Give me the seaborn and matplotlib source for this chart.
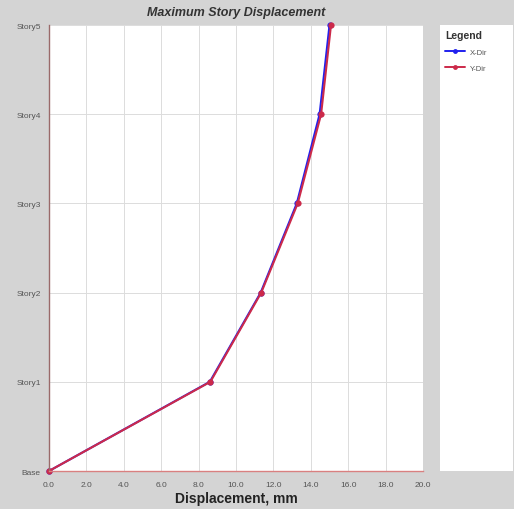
import numpy as np
import pandas as pd
import matplotlib
matplotlib.use("Agg")
import matplotlib.pyplot as plt
import seaborn as sns
from matplotlib.lines import Line2D

stories = ["Base", "Story1", "Story2", "Story3", "Story4", "Story5"]
x_dir = [0.0, 8.6, 11.32, 13.25, 14.47, 15.0]
y_dir = [0.0, 8.63, 11.35, 13.3, 14.55, 15.08]
x_ticks = [0.0, 2.0, 4.0, 6.0, 8.0, 10.0, 12.0, 14.0, 16.0, 18.0, 20.0]

df = pd.DataFrame({
    "Displacement": x_dir + y_dir,
    "Level": list(range(len(stories))) * 2,
    "Case": ["X-Dir"] * len(stories) + ["Y-Dir"] * len(stories),
})

sns.set_style("white")
plt.rcParams["font.family"] = ["Liberation Sans", "DejaVu Sans"]

bg = "#d4d4d4"
fig = plt.figure(figsize=(5.14, 5.10), dpi=100, facecolor=bg)
ax = fig.add_axes([0.0953, 0.0745, 0.7277, 0.8745])
ax.set_facecolor("white")

palette = {"X-Dir": "#2020ee", "Y-Dir": "#cc2a4a"}
sns.lineplot(data=df, x="Displacement", y="Level", hue="Case", palette=palette,
             sort=False, estimator=None, marker="o", markersize=4.5,
             markeredgewidth=0, linewidth=1.5, ax=ax, legend=False)
for ln in ax.get_lines():
    ln.set_clip_on(False)

ax.set_xlim(0, 20)
ax.set_ylim(0, 5)
ax.set_xticks(x_ticks)
ax.set_xticklabels([f"{t:.1f}" for t in x_ticks])
ax.set_yticks(range(len(stories)))
ax.set_yticklabels(stories)
ax.grid(True, color="#dcdcdc", linewidth=0.7)
ax.tick_params(axis="both", labelsize=6, labelcolor="#555555", length=3,
               width=0.6, color="#555555", direction="out")
ax.tick_params(axis="x", pad=4)
ax.tick_params(axis="y", pad=3)
for s in ["top", "right"]:
    ax.spines[s].set_visible(False)
ax.spines["left"].set_color("#9a6a6a")
ax.spines["left"].set_linewidth(1.0)
ax.spines["bottom"].set_color("#d98080")
ax.spines["bottom"].set_linewidth(1.0)

ax.set_xlabel("Displacement, mm", fontsize=10, fontweight="bold", color="#222222", labelpad=2)
ax.set_ylabel("")
ax.set_title("Maximum Story Displacement", fontsize=9, fontweight="bold",
             style="italic", color="#333333", pad=7)

# legend panel
lax = fig.add_axes([0.856, 0.0745, 0.142, 0.8745])
lax.set_facecolor("white")
lax.set_xticks([])
lax.set_yticks([])
for s in lax.spines.values():
    s.set_visible(False)
handles = [Line2D([0], [0], color=palette[k], marker="o", markersize=3.5,
                  markeredgewidth=0, linewidth=1.4) for k in ["X-Dir", "Y-Dir"]]
leg = lax.legend(handles, ["X-Dir", "Y-Dir"], loc="upper left", title="Legend",
                 frameon=False, fontsize=5.5, handlelength=2.6, borderaxespad=0.3,
                 labelspacing=1.1, handletextpad=0.6, borderpad=0.4)
leg.get_title().set_fontweight("bold")
leg.get_title().set_fontsize(7.5)
leg.get_title().set_color("#333333")
leg._legend_box.align = "left"
leg._legend_box.sep = 6
for t in leg.get_texts():
    t.set_color("#555555")

fig.savefig("out.png", dpi=100, facecolor=bg)
